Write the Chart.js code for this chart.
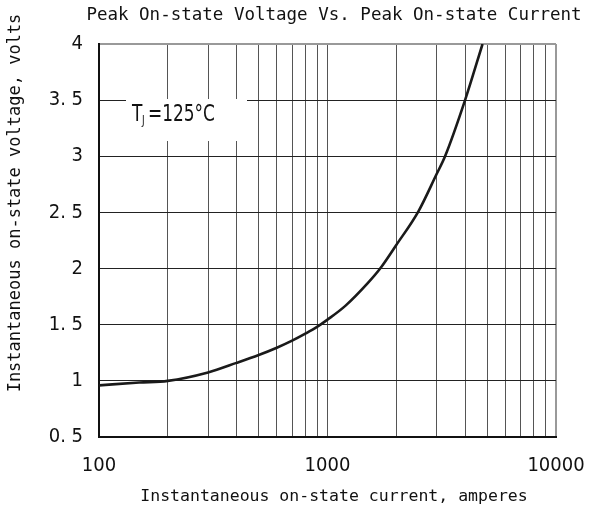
<!DOCTYPE html>
<html>
<head>
<meta charset="utf-8">
<script src="https://cdn.jsdelivr.net/npm/chart.js@4"></script>
<style>
  html, body { margin: 0; padding: 0; background: #fff; }
  #wrap { width: 589px; height: 511px; }
</style>
</head>
<body>
<div id="wrap"><canvas id="vtChart"></canvas></div>
<script>
// values
const currentA = [100, 150, 200, 300, 400, 500, 600, 700, 800, 900, 1000, 1200, 1500, 1700, 2000, 2500, 3000, 3270, 4000, 4770];
const voltageV = [0.96, 0.985, 1.0, 1.075, 1.16, 1.23, 1.295, 1.358, 1.42, 1.48, 1.545, 1.67, 1.87, 2.0, 2.21, 2.51, 2.84, 3.0, 3.5, 4.0];
const xTickLabels = [100, 1000, 10000];
const yTickLabels = [0.5, 1, 1.5, 2, 2.5, 3, 3.5, 4];

const titleText = 'Peak On-state Voltage Vs. Peak On-state Current';
const xTitle = 'Instantaneous on-state current, amperes';
const yTitle = 'Instantaneous on-state voltage, volts';

const narrow = "'Liberation Sans Narrow', 'DejaVu Sans Condensed', Roboto, sans-serif";
const mono = "'DejaVu Sans Mono', monospace";

// squeeze text sideways a bit, the datasheet font is narrow
function narrowText(ctx, text, x, y, sx) {
    ctx.save();
    ctx.translate(x, y);
    ctx.scale(sx, 1);
    ctx.fillText(text, 0, 0);
    ctx.restore();
}

// text and the Tj box drawn on top of the chart
const labelsPlugin = {
    id: 'labels',
    beforeDatasetsDraw(chart) {
        const ctx = chart.ctx;
        ctx.save();
        ctx.fillStyle = '#fff';
        ctx.fillRect(126, 99, 121, 42);
        ctx.restore();
    },
    afterDraw(chart) {
        const ctx = chart.ctx;
        ctx.save();
        ctx.fillStyle = '#111';
        ctx.textBaseline = 'middle';

        ctx.font = '17.5px ' + mono;
        ctx.textAlign = 'center';
        ctx.fillText(titleText, 334, 15);

        ctx.font = '16.5px ' + mono;
        ctx.fillText(xTitle, 334, 497);

        ctx.save();
        ctx.translate(16, 203);
        ctx.rotate(-Math.PI / 2);
        ctx.font = '17px ' + mono;
        ctx.fillText(yTitle, 0, 0);
        ctx.restore();

        // T_J=125°C
        ctx.textAlign = 'left';
        ctx.font = '23px ' + narrow;
        narrowText(ctx, 'T', 132, 115, 0.82);
        ctx.font = '12px ' + narrow;
        narrowText(ctx, 'J', 142, 121, 0.82);
        ctx.font = '23px ' + narrow;
        narrowText(ctx, '=125°C', 148, 115, 0.82);
        ctx.restore();
    }
};

document.addEventListener('DOMContentLoaded', function() {
    const ctx = document.getElementById('vtChart').getContext('2d');
    new Chart(ctx, {
        type: 'line',
        data: {
            datasets: [{
                data: currentA.map((x, i) => ({ x: x, y: voltageV[i] })),
                borderColor: '#1a1a1a',
                borderWidth: 2.6,
                pointRadius: 0,
                cubicInterpolationMode: 'monotone',
                fill: false
            }]
        },
        options: {
            responsive: true,
            maintainAspectRatio: false,
            animation: false,
            layout: { padding: { left: 0, top: 44, right: 33, bottom: 0 } },
            plugins: {
                legend: { display: false },
                tooltip: { enabled: false }
            },
            scales: {
                x: {
                    type: 'logarithmic',
                    min: 100,
                    max: 10000,
                    afterBuildTicks(scale) {
                        const t = [];
                        for (let d = 100; d < 10000; d *= 10) {
                            for (let k = 1; k < 10; k++) t.push({ value: d * k });
                        }
                        t.push({ value: 10000 });
                        scale.ticks = t;
                    },
                    afterFit(scale) {
                        scale.height = 74;
                        scale.paddingLeft = 0;
                        scale.paddingRight = 0;
                    },
                    ticks: {
                        autoSkip: false,
                        maxRotation: 0,
                        padding: 17,
                        color: '#111',
                        font: { family: narrow, size: 20 },
                        callback: v => xTickLabels.includes(v) ? String(v) : ''
                    },
                    grid: {
                        drawTicks: false,
                        color: ctx => ctx.tick && ctx.tick.value === 10000 ? '#999' : '#555',
                        lineWidth: ctx => ctx.tick && ctx.tick.value === 10000 ? 2 : 1
                    },
                    border: { color: '#111', width: 2 }
                },
                y: {
                    min: 0.5,
                    max: 4,
                    afterBuildTicks(scale) {
                        scale.ticks = yTickLabels.map(v => ({ value: v }));
                    },
                    afterFit(scale) {
                        scale.width = 99;
                        scale.paddingTop = 0;
                        scale.paddingBottom = 0;
                    },
                    ticks: {
                        padding: 16,
                        color: '#111',
                        font: { family: narrow, size: 20 },
                        callback: v => String(v).replace('.', '. ')
                    },
                    grid: {
                        drawTicks: false,
                        color: ctx => ctx.tick && ctx.tick.value === 4 ? '#999' : '#222',
                        lineWidth: ctx => ctx.tick && ctx.tick.value === 4 ? 2 : 1
                    },
                    border: { color: '#111', width: 2 }
                }
            }
        },
        plugins: [labelsPlugin]
    });
});
</script>
</body>
</html>
